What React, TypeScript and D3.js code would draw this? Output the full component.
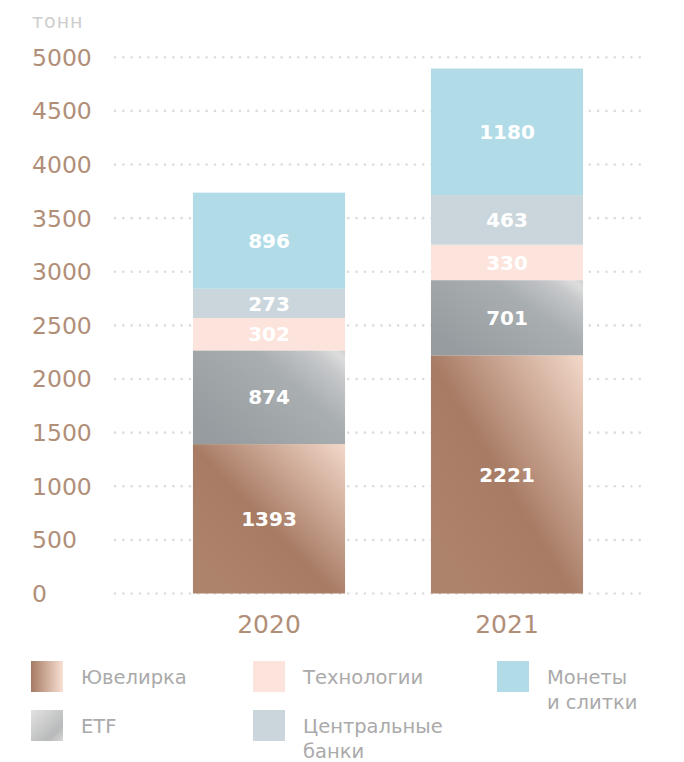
import React from "react";
import * as d3 from "d3";

const years = ["2020", "2021"];
const seriesKeys = ["jewelry", "etf", "tech", "banks", "coins"];
const jewelry = [1393, 2221];
const etf = [874, 701];
const tech = [302, 330];
const banks = [273, 463];
const coins = [896, 1180];
const yTicks = [0, 500, 1000, 1500, 2000, 2500, 3000, 3500, 4000, 4500, 5000];
const unitLabel = "тонн";
const legendItems = [
  { key: "jewelry", lines: ["Ювелирка"] },
  { key: "tech", lines: ["Технологии"] },
  { key: "coins", lines: ["Монеты", "и слитки"] },
  { key: "etf", lines: ["ETF"] },
  { key: "banks", lines: ["Центральные", "банки"] },
];

const W = 684;
const H = 762;
const FONT = "'DejaVu Sans', sans-serif";
const TICK_COLOR = "#b18e78";

const fills: Record<string, string> = {
  jewelry: "url(#gJewel)",
  etf: "url(#gEtf)",
  tech: "#fce3dc",
  banks: "#cad6dc",
  coins: "#b1dce7",
};
const legendFills: Record<string, string> = {
  jewelry: "url(#lgJewel)",
  etf: "url(#lgEtf)",
  tech: "#fce3dc",
  banks: "#cad6dc",
  coins: "#b1dce7",
};

export default function App() {
  const table = years.map((y, i) => ({
    year: y,
    jewelry: jewelry[i],
    etf: etf[i],
    tech: tech[i],
    banks: banks[i],
    coins: coins[i],
  }));
  const stacked = d3.stack<any>().keys(seriesKeys)(table);

  const x = d3
    .scaleBand<string>()
    .domain(years)
    .range([150, 626])
    .paddingInner(0.361)
    .paddingOuter(0.1805);
  const y = d3.scaleLinear().domain([0, 5000]).range([593.5, 57.3]);

  const legendPos = [
    { x: 31, y: 661 },
    { x: 253, y: 661 },
    { x: 497, y: 661 },
    { x: 31, y: 710 },
    { x: 253, y: 710 },
  ];

  return (
    <svg
      width={W}
      height={H}
      style={{ position: "absolute", left: 0, top: 0, display: "block" }}
      fontFamily={FONT}
    >
      <defs>
        <linearGradient id="gJewel" x1="1" y1="0" x2="0.1" y2="0.85">
          <stop offset="0" stopColor="#f3d8c9" />
          <stop offset="0.6" stopColor="#a77b64" />
          <stop offset="1" stopColor="#ae836c" />
        </linearGradient>
        <linearGradient id="gEtf" x1="0" y1="0.7" x2="1" y2="0">
          <stop offset="0" stopColor="#979ca0" />
          <stop offset="0.6" stopColor="#a9aeb1" />
          <stop offset="0.85" stopColor="#c6c8ca" />
          <stop offset="0.95" stopColor="#dddddd" />
          <stop offset="1" stopColor="#cfd0d1" />
        </linearGradient>
        <linearGradient id="lgJewel" x1="0" y1="0" x2="1" y2="0">
          <stop offset="0" stopColor="#a67a63" />
          <stop offset="1" stopColor="#f8e0d3" />
        </linearGradient>
        <linearGradient id="lgEtf" x1="0" y1="0" x2="1" y2="1">
          <stop offset="0" stopColor="#e2e2e2" />
          <stop offset="0.75" stopColor="#b8b9ba" />
          <stop offset="1" stopColor="#d8d8d8" />
        </linearGradient>
      </defs>

      <text x={32} y={28} fontSize={19} fill="#cdcdcd" letterSpacing={1}>
        {unitLabel}
      </text>

      {yTicks.map((t) => (
        <g key={t}>
          <line
            x1={115}
            x2={648}
            y1={y(t)}
            y2={y(t)}
            stroke="#dcdcdc"
            strokeWidth={2.6}
            strokeLinecap="round"
            strokeDasharray="0 8.33"
          />
          <text
            x={32}
            y={y(t)}
            dy="0.36em"
            fontSize={23.5}
            fill={TICK_COLOR}
          >
            {t}
          </text>
        </g>
      ))}

      {stacked.map((layer) => (
        <g key={layer.key}>
          {layer.map((d, i) => (
            <rect
              key={i}
              x={x(years[i])}
              width={x.bandwidth()}
              y={y(d[1])}
              height={y(d[0]) - y(d[1])}
              fill={fills[layer.key]}
            />
          ))}
        </g>
      ))}

      {stacked.map((layer) => (
        <g key={layer.key + "-lbl"}>
          {layer.map((d, i) => (
            <text
              key={i}
              x={(x(years[i]) as number) + x.bandwidth() / 2}
              y={(y(d[0]) + y(d[1])) / 2}
              dy="0.36em"
              textAnchor="middle"
              fontSize={20}
              fontWeight={700}
              fill="#ffffff"
            >
              {d[1] - d[0]}
            </text>
          ))}
        </g>
      ))}

      {years.map((yr) => (
        <text
          key={yr}
          x={(x(yr) as number) + x.bandwidth() / 2}
          y={633}
          textAnchor="middle"
          fontSize={25}
          fill={TICK_COLOR}
        >
          {yr}
        </text>
      ))}

      {legendItems.map((it, i) => {
        const p = legendPos[i];
        return (
          <g key={it.key}>
            <rect x={p.x} y={p.y} width={32} height={31} fill={legendFills[it.key]} />
            {it.lines.map((ln, j) => (
              <text
                key={j}
                x={p.x + 50}
                y={p.y + 23 + j * 25}
                fontSize={19.5}
                fill="#aaaaaa"
              >
                {ln}
              </text>
            ))}
          </g>
        );
      })}
    </svg>
  );
}
